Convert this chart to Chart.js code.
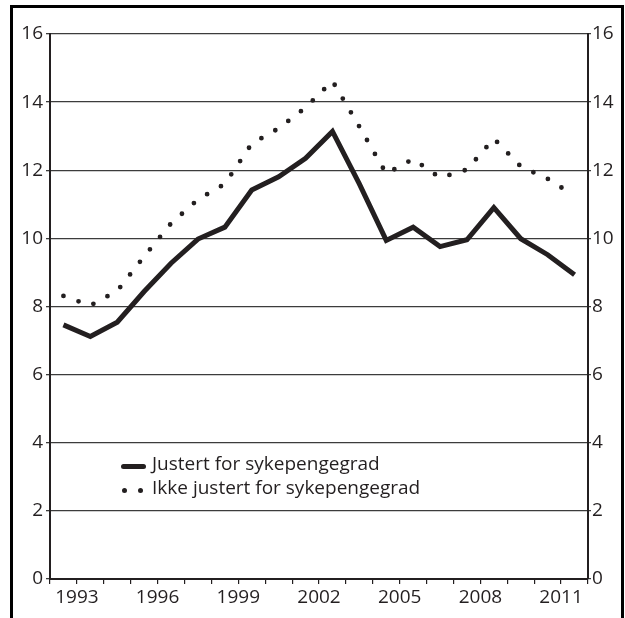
<!DOCTYPE html>
<html>
<head>
<meta charset="utf-8">
<title>Sykefravær</title>
<script src="https://cdn.jsdelivr.net/npm/chart.js@4.4.0/dist/chart.umd.min.js"></script>
<style>
  html, body { margin: 0; padding: 0; background: #fff; overflow: hidden; }
  #wrap { position: relative; width: 625px; height: 618px; }
  #frame { position: absolute; left: 10px; top: 5px; width: 608px; height: 700px; border: 3px solid #000; border-bottom: none; }
  #chart { position: absolute; left: 0; top: 0; }
  .legend { position: absolute; left: 121px; top: 452px; font-family: "Open Sans", sans-serif; font-size: 19px; line-height: 23.5px; color: #231f20; }
  .legend .row { position: relative; padding-left: 31px; white-space: nowrap; }
  .legend .solid { position: absolute; left: 0; top: 12px; width: 25px; height: 4.5px; border-radius: 2.5px; background: #231f20; }
  .legend .dot { position: absolute; top: 12px; width: 5px; height: 5px; border-radius: 50%; background: #231f20; }
</style>
</head>
<body>
<div id="wrap">
  <div id="frame"></div>
  <canvas id="chart" width="625" height="618"></canvas>
  <div class="legend">
    <div class="row"><span class="solid"></span>Justert for sykepengegrad</div>
    <div class="row"><span class="dot" style="left:1px"></span><span class="dot" style="left:17px"></span>Ikke justert for sykepengegrad</div>
  </div>
</div>
<script>
// data lest av figuren
const years = ['1992', '1993', '1994', '1995', '1996', '1997', '1998', '1999', '2000', '2001',
	'2002', '2003', '2004', '2005', '2006', '2007', '2008', '2009', '2010', '2011'];
const justert = [7.46, 7.12, 7.54, 8.44, 9.27, 9.98, 10.33, 11.42, 11.81, 12.35,
	13.14, 11.6, 9.94, 10.33, 9.76, 9.96, 10.9, 9.99, 9.52, 8.93];
const ikkeJustert = [8.31, 8.03, 8.46, 9.47, 10.44, 11.14, 11.6, 12.78, 13.23, 13.84,
	14.62, 13.28, 11.9, 12.33, 11.78, 12.02, 12.93, 12.11, 11.75, 11.25];
const yearTicks = ['1993', '1996', '1999', '2002', '2005', '2008', '2011'];
const yTicks = [0, 2, 4, 6, 8, 10, 12, 14, 16];

const ink = '#231f20';
Chart.defaults.font.family = '"Open Sans", sans-serif';
Chart.defaults.font.size = 19;
Chart.defaults.color = ink;

const ctx = document.getElementById('chart').getContext('2d');
const chart = new Chart(ctx, {
	type: 'line',
	data: {
		labels: years,
		datasets: [{
			label: 'Justert for sykepengegrad',
			data: justert,
			borderColor: ink,
			borderWidth: 5,
			borderJoinStyle: 'miter',
			pointRadius: 0,
			tension: 0
		}, {
			label: 'Ikke justert for sykepengegrad',
			data: ikkeJustert,
			borderColor: ink,
			borderWidth: 4.8,
			borderDash: [0, 16],
			borderCapStyle: 'round',
			pointRadius: 0,
			tension: 0
		}]
	},
	options: {
		responsive: false,
		animation: false,
		layout: { padding: { top: 34, left: 0, right: 0, bottom: 0 } },
		plugins: {
			legend: { display: false },
			tooltip: { enabled: false }
		},
		scales: {
			x: { type: 'category', display: false, offset: true },
			years: {
				type: 'linear',
				position: 'bottom',
				min: Number(years[0]),
				max: Number(years[years.length - 1]) + 1,
				ticks: {
					stepSize: 1,
					autoSkip: false,
					maxRotation: 0,
					padding: 2,
					callback: (v) => yearTicks.includes(String(v)) ? String(v) : ''
				},
				grid: { drawOnChartArea: false, tickLength: 5, color: ink, lineWidth: 1.2 },
				border: { color: ink, width: 2 },
				afterFit: (s) => { s.height = 39; }
			},
			y: {
				position: 'left',
				min: yTicks[0],
				max: yTicks[yTicks.length - 1],
				ticks: { stepSize: yTicks[1] - yTicks[0], padding: 3 },
				grid: { color: '#3c3c3c', lineWidth: 1.3, tickLength: 4 },
				border: { color: ink, width: 2 },
				afterFit: (s) => { s.width = 50; }
			},
			y2: {
				position: 'right',
				min: yTicks[0],
				max: yTicks[yTicks.length - 1],
				ticks: { stepSize: yTicks[1] - yTicks[0], padding: 1 },
				grid: { drawOnChartArea: false, color: '#3c3c3c', lineWidth: 1.3, tickLength: 3 },
				border: { color: ink, width: 2 },
				afterFit: (s) => { s.width = 37; }
			}
		}
	}
});
</script>
</body>
</html>
